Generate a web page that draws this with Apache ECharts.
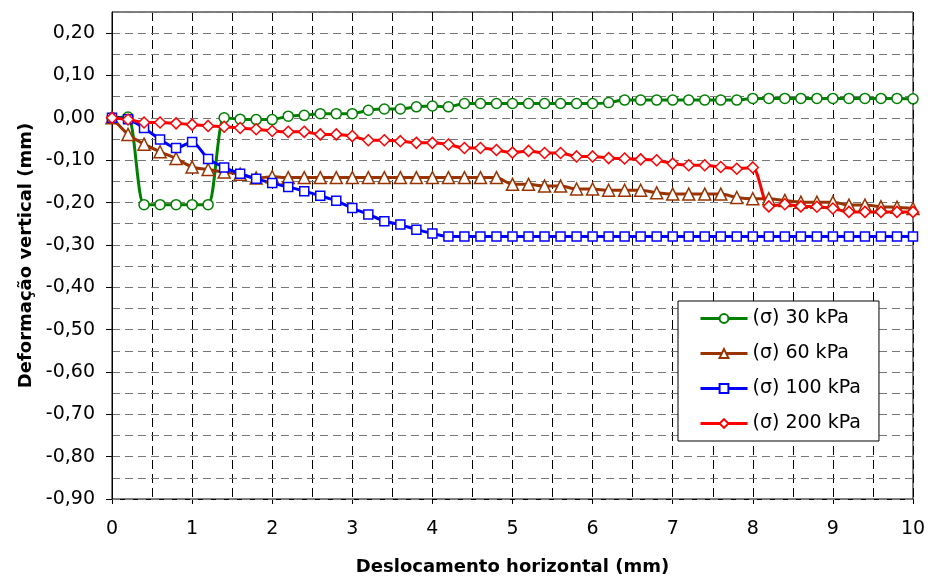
<!DOCTYPE html>
<html>
<head>
<meta charset="utf-8">
<script src="https://cdn.jsdelivr.net/npm/echarts@6/dist/echarts.min.js"></script>
<style>html,body{margin:0;padding:0;background:#fff;}#chart{width:930px;height:583px;}</style>
</head>
<body>
<div id="chart"></div>
<script>
// Horizontal displacement (mm) at each reading
const displacement = [0.0,0.2,0.4,0.6,0.8,1.0,1.2,1.4,1.6,1.8,2.0,2.2,2.4,2.6,2.8,3.0,3.2,3.4,3.6,3.8,4.0,4.2,4.4,4.6,4.8,5.0,5.2,5.4,5.6,5.8,6.0,6.2,6.4,6.6,6.8,7.0,7.2,7.4,7.6,7.8,8.0,8.2,8.4,8.6,8.8,9.0,9.2,9.4,9.6,9.8,10.0];

// Vertical deformation (mm) per normal stress
const s30 = [0.000,0.002,-0.205,-0.205,-0.205,-0.205,-0.205,0.000,-0.003,-0.004,-0.004,0.004,0.006,0.010,0.010,0.010,0.018,0.021,0.021,0.026,0.028,0.026,0.034,0.034,0.034,0.034,0.034,0.034,0.034,0.034,0.034,0.036,0.042,0.042,0.042,0.042,0.042,0.042,0.042,0.042,0.046,0.046,0.046,0.046,0.046,0.046,0.046,0.046,0.046,0.046,0.045];
const s60 = [0.000,-0.039,-0.062,-0.080,-0.096,-0.116,-0.122,-0.128,-0.133,-0.142,-0.139,-0.141,-0.141,-0.141,-0.141,-0.141,-0.141,-0.141,-0.141,-0.141,-0.141,-0.141,-0.141,-0.141,-0.141,-0.157,-0.157,-0.161,-0.161,-0.168,-0.168,-0.171,-0.171,-0.171,-0.177,-0.180,-0.180,-0.180,-0.180,-0.188,-0.191,-0.191,-0.195,-0.199,-0.199,-0.199,-0.206,-0.206,-0.210,-0.211,-0.214];
const s100 = [0.000,-0.003,-0.024,-0.051,-0.071,-0.057,-0.097,-0.117,-0.132,-0.144,-0.154,-0.163,-0.173,-0.184,-0.196,-0.213,-0.228,-0.244,-0.252,-0.264,-0.273,-0.280,-0.280,-0.280,-0.280,-0.280,-0.280,-0.280,-0.280,-0.280,-0.280,-0.280,-0.280,-0.280,-0.280,-0.280,-0.280,-0.280,-0.280,-0.280,-0.280,-0.280,-0.280,-0.280,-0.280,-0.280,-0.280,-0.280,-0.280,-0.280,-0.280];
const s200 = [0.000,-0.004,-0.011,-0.011,-0.013,-0.016,-0.019,-0.021,-0.024,-0.027,-0.031,-0.033,-0.033,-0.039,-0.039,-0.043,-0.053,-0.053,-0.055,-0.059,-0.059,-0.063,-0.071,-0.071,-0.076,-0.082,-0.078,-0.083,-0.083,-0.091,-0.091,-0.095,-0.096,-0.098,-0.100,-0.108,-0.112,-0.112,-0.116,-0.120,-0.117,-0.209,-0.204,-0.209,-0.210,-0.214,-0.222,-0.222,-0.222,-0.222,-0.222];

const seriesNames = ['(σ) 30 kPa','(σ) 60 kPa','(σ) 100 kPa','(σ) 200 kPa'];
const yTickValues = [-0.9,-0.8,-0.7,-0.6,-0.5,-0.4,-0.3,-0.2,-0.1,0.0,0.1,0.2];
const xTickValues = [0,1,2,3,4,5,6,7,8,9,10];

const FONT = 'DejaVu Sans';
const chart = echarts.init(document.getElementById('chart'), null, {renderer:'canvas'});

function mk(name, vals, color, symbol, size) {
  return {
    name: name, type: 'line', smooth: 0.25,
    xAxisIndex: 0, yAxisIndex: 0,
    data: displacement.map((x, i) => [x, vals[i]]),
    symbol: symbol, symbolSize: size, showSymbol: true,
    lineStyle: {color: color, width: 3},
    itemStyle: {color: '#fff', borderColor: color, borderWidth: 1.5},
    emphasis: {disabled: true},
    animation: false
  };
}

chart.setOption({
  animation: false,
  backgroundColor: '#fff',
  grid: {left: 112, right: 17, top: 12, bottom: 84, show: true, borderColor: '#000', borderWidth: 1, backgroundColor: 'transparent'},
  legend: {
    orient: 'vertical', left: 678, top: 301,
    backgroundColor: '#fff', borderColor: '#000', borderWidth: 1,
    padding: [8, 18, 8, 21],
    itemWidth: 47, itemHeight: 11, itemGap: 16,
    lineStyle: {width: 3},
    textStyle: {fontFamily: FONT, fontSize: 19, color: '#000', lineHeight: 19},
    data: seriesNames
  },
  xAxis: {
    type: 'value', min: 0, max: 10, interval: 1,
    name: 'Deslocamento horizontal (mm)', nameLocation: 'middle', nameGap: 59,
    nameTextStyle: {fontFamily: FONT, fontSize: 18, fontWeight: 'bold', color: '#000'},
    axisLine: {show: true, onZero: false, lineStyle: {color: '#000', width: 1}},
    axisTick: {show: true, length: 5, lineStyle: {color: '#000'}, customValues: xTickValues},
    axisLabel: {fontFamily: FONT, fontSize: 19, color: '#000', margin: 21, customValues: xTickValues},
    splitLine: {show: true, lineStyle: {color: '#000', type: [9, 5], width: 1}},
    minorTick: {show: false, splitNumber: 2},
    minorSplitLine: {show: true, lineStyle: {color: '#000', type: [9, 5], width: 1}}
  },
  yAxis: [{
    type: 'value', min: -0.9, max: 0.25, interval: 0.05,
    name: 'Deformação vertical (mm)', nameLocation: 'middle', nameGap: 72,
    nameTextStyle: {fontFamily: FONT, fontSize: 18, fontWeight: 'bold', color: '#000'},
    axisLine: {show: true, lineStyle: {color: '#000', width: 1}},
    axisTick: {show: true, length: 6, lineStyle: {color: '#000'}, customValues: yTickValues},
    axisLabel: {
      fontFamily: FONT, fontSize: 19, color: '#000', margin: 17, customValues: yTickValues,
      formatter: v => v.toFixed(2).replace('.', ',')
    },
    splitLine: {show: false},
    z: 3
  }, {
    type: 'value', min: -0.9, max: 0.25, interval: 0.05, position: 'left',
    axisLine: {show: false}, axisTick: {show: false}, axisLabel: {show: false},
    splitLine: {show: true, lineStyle: {color: '#777', type: [8, 5], width: 1}},
    z: 1
  }],
  series: [
    mk(seriesNames[0], s30, '#008000', 'circle', 10),
    mk(seriesNames[1], s60, '#993300', 'triangle', 12),
    mk(seriesNames[2], s100, '#0000ff', 'rect', 9),
    mk(seriesNames[3], s200, '#ff0000', 'diamond', 11)
  ]
});
</script>
</body>
</html>
